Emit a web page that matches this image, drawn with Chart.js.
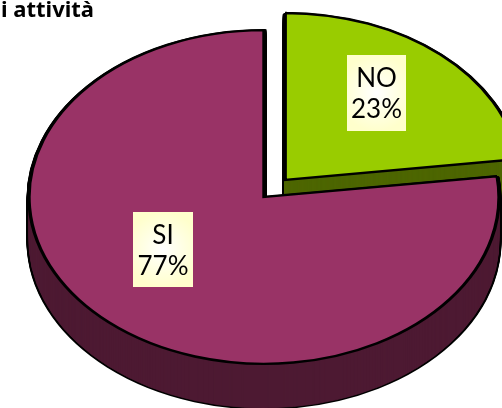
<!DOCTYPE html>
<html><head><meta charset="utf-8">
<style>html,body{margin:0;padding:0;background:#fff;overflow:hidden}#w{width:502px;height:408px;position:relative}</style>
<script src="https://cdn.jsdelivr.net/npm/chart.js@4/dist/chart.umd.min.js"></script>
</head><body><div id="w"><canvas id="c" width="502" height="408"></canvas></div>
<script>
const categories = ["NO", "SI"];
const values = [23, 77];
const percentLabels = ["23%", "77%"];
const topColors = ["#99CC00", "#993366"];
const sideColors = ["#4D6600", "#4D1A33"];
const titleText = "i attività";

const squash = 0.71, depth = 44, cx = 264, cy = 197;
const boxes = [{x:347,y:55,w:59,h:76},{x:133,y:212,w:60,h:75}];

function variant(arc, over){
  const c = Object.create(arc);
  c.options = Object.assign({}, arc.options, over);
  return c;
}
const pie3d = {
  id:'pie3d',
  beforeDatasetDraw(chart){
    const ctx = chart.ctx, arcs = chart.getDatasetMeta(0).data;
    const o = arcs[0];
    arcs.forEach((arc,i)=>{
      const at = (dy)=>{
        const r = chart.currentDevicePixelRatio || 1;
        ctx.setTransform(r,0,0,r*squash, r*(cx-o.x), r*(cy+dy-o.y*squash));
      };
      const layers = [];
      for(let d=depth;d>=1;d-=1) layers.push(d);
      const edge = variant(arc,{backgroundColor:'#000',borderColor:'#000',borderWidth:5,borderJoinStyle:'miter'});
      const fill = variant(arc,{backgroundColor:sideColors[i],borderColor:sideColors[i],borderWidth:1});
      ctx.save();
      layers.forEach(d=>{at(d);edge.draw(ctx);});
      layers.forEach(d=>{at(d);fill.draw(ctx);});
      at(0);
      variant(arc,{backgroundColor:topColors[i],borderColor:'#000',borderWidth:3.4,borderJoinStyle:'miter'}).draw(ctx);
      ctx.restore();
    });
    return false;
  },
  afterDraw(chart){
    const ctx = chart.ctx;
    ctx.save();
    categories.forEach((name,i)=>{
      const b = boxes[i], mx=b.x+b.w/2, my=b.y+b.h/2;
      const g = ctx.createRadialGradient(mx,my,0,mx,my,b.h*0.5);
      g.addColorStop(0,'#FFFFFF');g.addColorStop(1,'#FFFFCC');
      ctx.fillStyle=g;ctx.fillRect(b.x,b.y,b.w,b.h);
      ctx.fillStyle='#000';ctx.textAlign='center';ctx.textBaseline='alphabetic';
      ctx.font='26px Lato';
      ctx.fillText(name,mx,b.y+32);
      ctx.fillText(percentLabels[i],mx,b.y+63);
    });
    ctx.textAlign='left';ctx.font='bold 22px "Noto Sans"';
    ctx.fillText(titleText,1,17);
    ctx.restore();
  }
};
new Chart(document.getElementById('c'),{
  type:'pie',
  data:{labels:categories,datasets:[{data:values,backgroundColor:topColors,offset:[128,0],borderWidth:0}]},
  options:{responsive:false,animation:false,radius:235,
    plugins:{legend:{display:false},tooltip:{enabled:false},title:{display:false}},
    layout:{padding:0}},
  plugins:[pie3d]
});
</script></body></html>
